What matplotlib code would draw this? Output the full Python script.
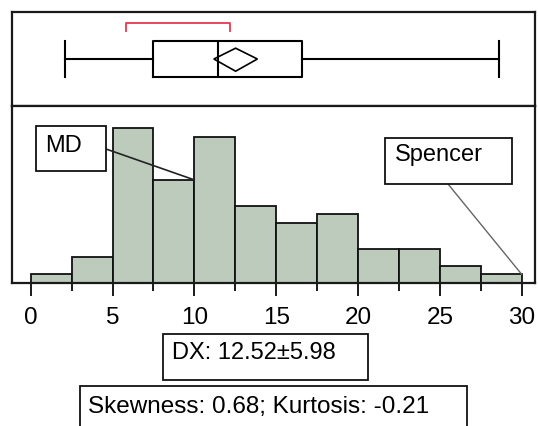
import numpy as np
import matplotlib.pyplot as plt
from matplotlib.patches import Rectangle, Polygon

# histogram data (counts per 2.5-wide bin)
bin_edges = np.arange(0, 30.01, 2.5)
counts = [1, 3, 18, 12, 17, 9, 7, 8, 4, 4, 2, 1]

# box plot summary
whis_lo, q1, median, q3, whis_hi = 2.1, 7.49, 11.42, 16.57, 28.6
mean, mean_ci = 12.52, 1.33
short_lo, short_hi = 5.82, 12.18

xticks = [0, 5, 10, 15, 20, 25, 30]
dx_text = "DX: 12.52\u00b15.98"
stats_text = "Skewness: 0.68; Kurtosis: -0.21"

W, H = 538, 427
fig = plt.figure(figsize=(W / 100, H / 100), dpi=100)

def fx(x):
    return x / W

def fy(y):
    return (H - y) / H

ax_box = fig.add_axes([fx(12), fy(107), fx(535) - fx(12), fy(13) - fy(107)])
ax_hist = fig.add_axes([fx(12), fy(284), fx(535) - fx(12), fy(107) - fy(284)])

xlim = (-1.142, 30.81)
frame_col = '#1a1a1a'

# --- histogram
ax_hist.bar(bin_edges[:-1], counts, width=2.5, align='edge',
            color='#bccbbb', edgecolor='#111111', linewidth=1.3, zorder=2)
ax_hist.set_xlim(*xlim)
ax_hist.set_ylim(0, 20.6)
ax_hist.set_yticks([])
ax_hist.set_xticks(xticks)
ax_hist.set_xticks(np.arange(2.5, 30, 5), minor=True)
ax_hist.tick_params(axis='x', which='major', length=9.4, width=1.4, pad=7,
                    labelsize=17.5, color=frame_col)
ax_hist.tick_params(axis='x', which='minor', length=5.8, width=1.4, color=frame_col)
for lab in ax_hist.get_xticklabels():
    lab.set_fontfamily('Liberation Sans')
for s in ax_hist.spines.values():
    s.set_linewidth(1.6)
    s.set_color(frame_col)

# --- box plot
ax_box.bxp([{'med': median, 'q1': q1, 'q3': q3, 'whislo': whis_lo,
             'whishi': whis_hi, 'fliers': []}],
           positions=[0.5], widths=0.39, capwidths=0.39, vert=False,
           showfliers=False,
           boxprops=dict(color='black', linewidth=1.5),
           whiskerprops=dict(color='black', linewidth=1.5),
           capprops=dict(color='black', linewidth=1.5),
           medianprops=dict(color='black', linewidth=1.5))
ax_box.add_patch(Polygon([[mean - mean_ci, 0.5], [mean, 0.615],
                          [mean + mean_ci, 0.5], [mean, 0.37]],
                         closed=True, fill=False, edgecolor='black', linewidth=1.2))
ax_box.plot([short_lo, short_lo, short_hi, short_hi], [0.795, 0.88, 0.88, 0.795],
            color='#e8364f', linewidth=1.3)
ax_box.set_xlim(*xlim)
ax_box.set_ylim(0, 1)
ax_box.set_xticks([])
ax_box.set_yticks([])
for s in ax_box.spines.values():
    s.set_linewidth(1.6)
    s.set_color(frame_col)

# --- labelled boxes (pixel positions measured from top-left)
def box(x0, y0, x1, y1):
    fig.add_artist(Rectangle((fx(x0), fy(y1)), fx(x1) - fx(x0), fy(y0) - fy(y1),
                             transform=fig.transFigure, fill=True, facecolor='white',
                             edgecolor='#111111', linewidth=1.3, zorder=5))

def label(x, y, s, size=17):
    fig.text(fx(x), fy(y), s, ha='left', va='baseline', fontsize=size,
             family='Liberation Sans', color='black', zorder=6)

box(36, 127, 106, 172)
label(45, 152, "MD")
ax_hist.annotate("", xy=(10, 12), xycoords='data',
                 xytext=(fx(106), fy(150)), textcoords='figure fraction',
                 arrowprops=dict(arrowstyle='-', color='#222222', lw=1.2,
                                 shrinkA=0, shrinkB=0), zorder=4)

box(385, 138.5, 512, 185)
label(395, 161.5, "Spencer")
ax_hist.annotate("", xy=(30, 1), xycoords='data',
                 xytext=(fx(448), fy(185)), textcoords='figure fraction',
                 arrowprops=dict(arrowstyle='-', color='#666666', lw=1.0,
                                 shrinkA=0, shrinkB=0), zorder=4)

box(163, 335, 368, 381)
label(172, 359.5, dx_text)

box(80, 387, 467, 440)
label(88, 413.5, stats_text, size=17.5)

fig.savefig('out.png', dpi=100)
